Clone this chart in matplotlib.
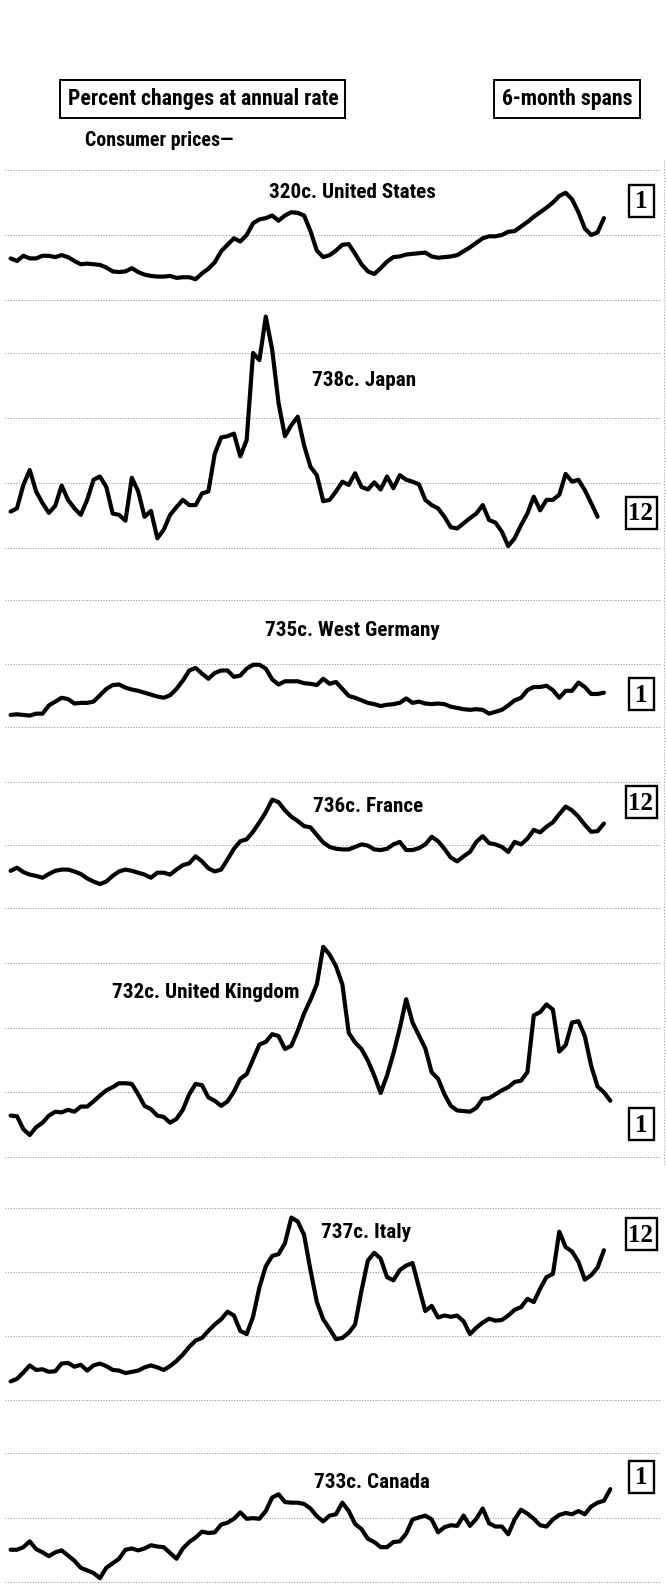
import numpy as np
import matplotlib
matplotlib.use('Agg')
import matplotlib.pyplot as plt
from matplotlib.patches import Rectangle
from matplotlib.lines import Line2D

plt.rcParams['font.family'] = ['Roboto Condensed', 'Liberation Sans Narrow', 'DejaVu Sans']
plt.rcParams['font.weight'] = 'bold'
plt.rcParams['font.stretch'] = 'condensed'

# Consumer prices, 6-month spans, percent change at annual rate.
# One reading every two months from the start of the period.
us = [6.4, 6.0, 6.8, 6.4, 6.4, 6.8, 6.8, 6.6, 6.9, 6.6,
      6.0, 5.5, 5.6, 5.5, 5.4, 5.0, 4.4, 4.3, 4.4, 4.9,
      4.3, 3.9, 3.7, 3.6, 3.6, 3.7, 3.4, 3.5, 3.5, 3.2,
      4.1, 4.8, 5.8, 7.5, 8.5, 9.5, 9.0, 10.0, 11.8, 12.4,
      12.6, 13.0, 12.2, 13.0, 13.5, 13.4, 13.0, 10.6, 7.6, 6.6,
      6.9, 7.6, 8.5, 8.6, 7.1, 5.5, 4.4, 4.0, 4.9, 5.9,
      6.6, 6.7, 7.0, 7.1, 7.2, 7.3, 6.7, 6.5, 6.6, 6.7,
      6.9, 7.5, 8.1, 8.8, 9.5, 9.8, 9.8, 10.0, 10.5, 10.6,
      11.3, 12.0, 12.8, 13.5, 14.2, 15.0, 16.0, 16.5, 15.5, 13.5,
      11.0, 10.0, 10.4, 12.6]

japan = [5.6, 6.1, 9.7, 12.0, 8.7, 6.9, 5.4, 6.5, 9.6, 7.4,
         6.1, 5.1, 7.4, 10.5, 11.0, 9.4, 5.3, 5.1, 4.2, 10.8,
         8.7, 4.8, 5.7, 1.5, 2.8, 5.1, 6.3, 7.4, 6.6, 6.6,
         8.4, 8.7, 14.5, 17.0, 17.2, 17.6, 14.1, 16.6, 30.0, 28.9,
         35.6, 30.5, 22.3, 17.2, 18.9, 20.2, 15.8, 12.5, 11.2, 7.2,
         7.4, 8.7, 10.2, 9.7, 11.5, 9.4, 9.0, 10.1, 9.0, 11.0,
         9.2, 11.2, 10.5, 10.2, 9.8, 7.4, 6.6, 6.1, 4.8, 3.2,
         3.0, 3.8, 4.6, 5.3, 6.6, 4.3, 3.9, 2.5, 0.3, 1.5,
         3.5, 5.3, 7.9, 5.8, 7.4, 7.4, 8.2, 11.4, 10.2, 10.5,
         8.9, 6.9, 4.8]

west_germany = [1.9, 2.0, 1.9, 1.8, 2.1, 2.1, 3.4, 4.0, 4.6, 4.4,
                3.7, 3.8, 3.8, 4.0, 5.0, 6.0, 6.6, 6.7, 6.2, 5.9,
                5.7, 5.4, 5.1, 4.8, 4.6, 5.0, 6.0, 7.3, 8.9, 9.3,
                8.4, 7.6, 8.5, 8.9, 8.9, 7.9, 8.1, 9.2, 9.8, 9.8,
                9.2, 7.5, 6.7, 7.2, 7.2, 7.2, 6.9, 6.8, 6.6, 7.6,
                6.8, 7.1, 6.0, 4.9, 4.6, 4.2, 3.8, 3.6, 3.3, 3.5,
                3.6, 3.8, 4.5, 3.8, 4.0, 3.7, 3.6, 3.7, 3.6, 3.2,
                3.0, 2.8, 2.7, 2.8, 2.7, 2.1, 2.4, 2.7, 3.4, 4.2,
                4.6, 5.8, 6.3, 6.3, 6.5, 5.8, 4.6, 5.7, 5.7, 7.0,
                6.3, 5.2, 5.2, 5.4]

france = [5.9, 6.4, 5.7, 5.3, 5.1, 4.8, 5.4, 5.9, 6.1, 6.1,
          5.8, 5.4, 4.7, 4.2, 3.8, 4.2, 5.1, 5.8, 6.1, 5.9,
          5.6, 5.3, 4.8, 5.6, 5.6, 5.3, 6.1, 6.8, 7.1, 8.2,
          7.4, 6.3, 5.8, 6.1, 7.7, 9.4, 10.6, 10.9, 12.1, 13.6,
          15.2, 17.2, 16.8, 15.5, 14.5, 13.8, 13.0, 12.8, 11.6, 10.4,
          9.7, 9.4, 9.3, 9.3, 9.7, 10.1, 9.9, 9.3, 9.2, 9.4,
          10.1, 10.5, 9.2, 9.2, 9.5, 10.1, 11.3, 10.6, 9.4, 8.0,
          7.4, 8.2, 8.9, 10.5, 11.4, 10.3, 10.1, 9.7, 8.9, 10.5,
          10.1, 11.0, 12.4, 12.0, 12.9, 13.6, 14.9, 16.1, 15.5, 14.5,
          13.2, 12.1, 12.2, 13.4]

united_kingdom = [6.4, 6.3, 4.3, 3.4, 4.6, 5.3, 6.4, 7.0, 6.9, 7.3,
                  7.0, 7.8, 7.8, 8.6, 9.5, 10.3, 10.8, 11.4, 11.4, 11.3,
                  9.7, 7.9, 7.4, 6.4, 6.2, 5.3, 5.9, 7.3, 9.7, 11.3,
                  11.1, 9.2, 8.7, 7.9, 8.6, 10.1, 12.1, 12.8, 15.1, 17.4,
                  17.8, 19.0, 18.7, 16.7, 17.2, 19.5, 22.2, 24.3, 26.7, 32.5,
                  31.3, 29.5, 26.7, 19.2, 17.7, 16.7, 14.9, 12.6, 9.9, 12.6,
                  16.0, 19.9, 24.4, 20.8, 18.8, 16.8, 13.1, 12.1, 9.7, 7.9,
                  7.2, 7.1, 7.0, 7.6, 9.0, 9.1, 9.7, 10.3, 10.8, 11.6,
                  11.8, 13.1, 21.9, 22.4, 23.6, 22.8, 16.3, 17.3, 20.8, 21.0,
                  18.7, 14.1, 10.9, 10.0, 8.7]

italy = [2.9, 3.3, 4.3, 5.4, 4.7, 4.8, 4.4, 4.5, 5.7, 5.8,
         5.2, 5.5, 4.6, 5.4, 5.7, 5.3, 4.7, 4.6, 4.2, 4.4,
         4.6, 5.1, 5.4, 5.1, 4.7, 5.3, 6.1, 7.1, 8.3, 9.3,
         9.7, 10.8, 11.8, 12.6, 13.8, 13.2, 10.8, 10.3, 13.0, 17.6,
         20.9, 22.5, 22.8, 24.5, 28.5, 27.9, 25.8, 20.3, 15.3, 12.6,
         11.1, 9.5, 9.7, 10.5, 11.8, 17.1, 21.8, 23.0, 22.1, 19.2,
         18.7, 20.3, 21.0, 21.4, 17.6, 13.9, 14.7, 12.9, 13.2, 13.0,
         13.2, 12.3, 10.3, 11.3, 12.1, 12.7, 12.4, 12.5, 13.2, 14.1,
         14.5, 15.8, 15.3, 17.4, 19.2, 19.7, 26.3, 23.9, 23.2, 21.6,
         18.8, 19.5, 20.7, 23.4]

canada = [5.0, 5.0, 5.4, 6.3, 5.1, 4.6, 4.0, 4.6, 4.9, 4.1,
          3.3, 2.2, 1.8, 1.4, 0.6, 2.2, 2.9, 3.6, 5.0, 5.2,
          4.9, 5.2, 5.7, 5.5, 5.4, 4.5, 3.6, 5.2, 6.2, 6.9,
          7.8, 7.6, 7.7, 8.9, 9.2, 9.8, 10.8, 9.8, 9.9, 9.8,
          11.0, 13.1, 13.6, 12.4, 12.3, 12.3, 12.1, 11.4, 10.2, 9.4,
          10.3, 10.5, 12.3, 11.0, 9.0, 8.2, 6.7, 6.2, 5.4, 5.4,
          6.2, 6.3, 7.5, 9.7, 10.0, 10.3, 9.7, 7.7, 8.5, 8.8,
          8.7, 10.3, 8.7, 9.8, 11.4, 9.1, 8.6, 8.6, 7.4, 9.7,
          11.2, 10.6, 9.8, 8.8, 8.6, 9.7, 10.4, 10.7, 10.5, 11.0,
          10.5, 11.7, 12.3, 12.6, 14.4]

titles = ['320c. United States', '738c. Japan', '735c. West Germany', '736c. France',
          '732c. United Kingdom', '737c. Italy', '733c. Canada']
span_labels = ['1', '12', '1', '12', '1', '12', '1']
series = [us, japan, west_germany, france, united_kingdom, italy, canada]

W, H = 667, 1587
fig = plt.figure(figsize=(W / 100, H / 100), dpi=100)
renderer = fig.canvas.get_renderer()


def fx(px):
    return px / W


def fy(py):
    return 1 - py / H


def size_for(s, width_px, start=14):
    # font size that makes string s come out width_px wide
    t = fig.text(0, 0, s, fontsize=start)
    w = t.get_window_extent(renderer).width
    t.remove()
    return start * width_px / w


title_size = size_for('735c. West Germany', 176)
head_size = size_for('Percent changes at annual rate', 272)
sub_size = size_for('Consumer prices\u2014', 148)
digit_font = dict(family=['Liberation Serif', 'DejaVu Serif'], stretch='normal',
                  weight='bold', fontsize=18)

# horizontal scale shared by all panels (months from start)
X0, XSCALE = 10.6, 3.19
xlim = (-X0 / XSCALE, (W - X0) / XSCALE)

# zero line, top grid line, top grid value, title centre, box centre (pixels)
layout = [
    (300, 170, 20, (352, 192), 201),
    (548, 353, 30, (364, 381), 513),
    (727, 600, 20, (352, 631), 694),
    (908, 782, 20, (368, 806), 802),
    (1157, 963, 30, (206, 992), 1124),
    (1400, 1208, 30, (366, 1232), 1234),
    (1582, 1453, 20, (372, 1483), 1477),
]

grid_kw = dict(color='0.55', lw=0.7, ls=(0, (1, 1.8)), xmin=5 / W, xmax=660 / W)

for vals, title, span, (zero_px, top_px, top_val, (tx, ty), by) in zip(series, titles, span_labels, layout):
    ppu = (zero_px - top_px) / top_val
    band_top, band_bot = top_px - 50, zero_px + 8
    ax = fig.add_axes([0, fy(band_bot), 1, (band_bot - band_top) / H])
    ax.set_xlim(*xlim)
    ax.set_ylim(-(band_bot - zero_px) / ppu, top_val + (top_px - band_top) / ppu)
    ax.axis('off')
    for g in range(0, top_val + 1, 10):
        ax.axhline(g, **grid_kw)
    months = np.arange(len(vals)) * 2
    ax.plot(months, vals, color='black', lw=3.0, solid_joinstyle='round',
            solid_capstyle='round', clip_on=False)

    fig.text(fx(tx), fy(ty), title, ha='center', va='center', fontsize=title_size)
    bw = 31 if len(span) > 1 else 25
    fig.add_artist(Rectangle((fx(641 - bw / 2), fy(by + 16)), bw / W, 32 / H,
                             transform=fig.transFigure, fill=False, ec='black', lw=1.7))
    fig.text(fx(641), fy(by + 1), span, ha='center', va='center', **digit_font)

# header boxes
fig.add_artist(Rectangle((fx(60), fy(118)), 285 / W, 38 / H, transform=fig.transFigure,
                         fill=False, ec='black', lw=1.4))
fig.text(fx(203), fy(99), 'Percent changes at annual rate', ha='center', va='center',
         fontsize=head_size)
fig.add_artist(Rectangle((fx(494), fy(118)), 146 / W, 38 / H, transform=fig.transFigure,
                         fill=False, ec='black', lw=1.4))
fig.text(fx(567), fy(99), '6-month spans', ha='center', va='center', fontsize=head_size)
fig.text(fx(85), fy(141), 'Consumer prices\u2014', ha='left', va='center', fontsize=sub_size)

# faint page edge on the right
fig.add_artist(Line2D([fx(664), fx(664)], [fy(160), fy(1165)], transform=fig.transFigure,
                      color='0.6', lw=0.7, ls=(0, (1, 2))))

fig.savefig('out.png', dpi=100)
